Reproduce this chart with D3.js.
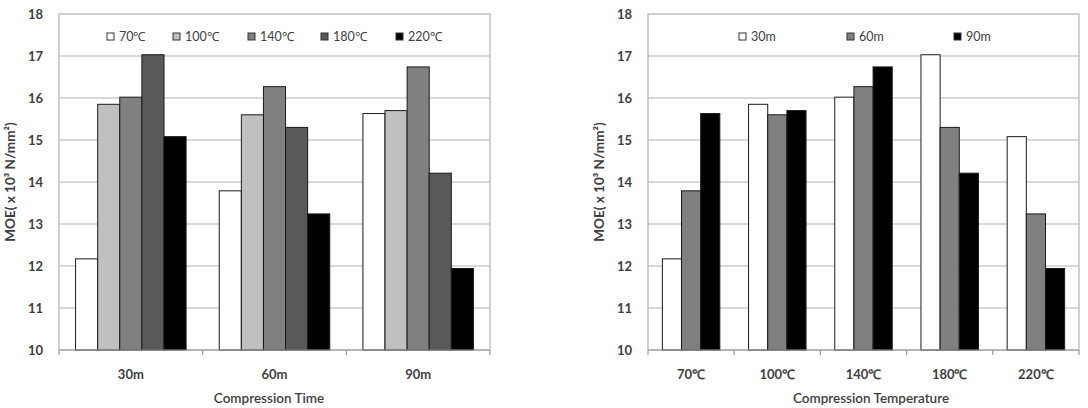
<!DOCTYPE html>
<html lang="en">
<head>
    <meta charset="UTF-8">
    <title>MOE by compression time and temperature</title>
    <script src="https://cdnjs.cloudflare.com/ajax/libs/d3/7.8.5/d3.min.js"></script>
    <style>
        body { margin: 0; background: #ffffff; }
        svg { display: block; font-family: Lato, 'Open Sans', sans-serif; }
        .tick-label { font-size: 13px; font-weight: bold; fill: #404040; }
        .legend-text { font-size: 12.5px; fill: #404040; }
        .axis-title { font-size: 13.5px; font-weight: bold; fill: #404040; }
    </style>
</head>
<body>
    <svg id="chart" width="1088" height="408"></svg>

    <script>
        // categories
        const timeCats = ["30m", "60m", "90m"];
        const tempCats = ["70℃", "100℃", "140℃", "180℃", "220℃"];

        // MOE (x 10^3 N/mm2) per temperature, across 30m / 60m / 90m
        const moe70 = [12.17, 13.79, 15.63];
        const moe100 = [15.85, 15.60, 15.70];
        const moe140 = [16.02, 16.27, 16.74];
        const moe180 = [17.03, 15.30, 14.21];
        const moe220 = [15.08, 13.24, 11.94];

        const yTicks = [10, 11, 12, 13, 14, 15, 16, 17, 18];

        const tempColors = ["#ffffff", "#c0c0c0", "#808080", "#595959", "#000000"];
        const timeColors = ["#ffffff", "#808080", "#000000"];

        const byTemp = [moe70, moe100, moe140, moe180, moe220];
        // same numbers the other way round: one series per time
        const byTime = timeCats.map((t, i) => byTemp.map(s => s[i]));

        const svg = d3.select("#chart");

        function drawChart(cfg) {
            const w = 431, h = 336;
            const g = svg.append("g").attr("transform", `translate(${cfg.left},14)`);

            const y = d3.scaleLinear().domain([10, 18]).range([h, 0]);
            const x0 = d3.scaleBand().domain(cfg.cats).range([0, w]);
            const n = cfg.series.length;
            const bw = x0.bandwidth() / (n + 1.5);   // excel gap width 150%
            const x1 = d3.scaleBand().domain(cfg.series)
                .range([0.75 * bw, x0.bandwidth() - 0.75 * bw]);

            // plot border + gridlines
            g.append("rect").attr("width", w).attr("height", h)
                .attr("fill", "none").attr("stroke", "#b4b4b4").attr("stroke-width", 1.2);
            g.selectAll(".grid").data(yTicks.slice(1, -1)).join("line")
                .attr("x1", 0).attr("x2", w)
                .attr("y1", d => y(d)).attr("y2", d => y(d))
                .attr("stroke", "#b4b4b4").attr("stroke-width", 1.2);

            // y axis labels
            const yAxis = d3.axisLeft(y).tickValues(yTicks).tickSize(0).tickPadding(16);
            const ya = g.append("g").call(yAxis);
            ya.select(".domain").remove();
            ya.selectAll("text").attr("class", "tick-label").attr("fill", null)
                .style("font-family", "Lato, sans-serif");

            // bars
            cfg.series.forEach((s, si) => {
                g.selectAll(".bar-" + si).data(cfg.values[si]).join("rect")
                    .attr("x", (d, ci) => x0(cfg.cats[ci]) + x1(s))
                    .attr("y", d => y(d))
                    .attr("width", x1.bandwidth())
                    .attr("height", d => h - y(d))
                    .attr("fill", cfg.colors[si])
                    .attr("stroke", "#1a1a1a").attr("stroke-width", 1);
            });

            // x axis with ticks between categories
            const xb = g.append("g").attr("transform", `translate(0,${h})`);
            xb.append("line").attr("x1", 0).attr("x2", w)
                .attr("stroke", "#9a9a9a").attr("stroke-width", 1.2);
            const bounds = cfg.cats.map(c => x0(c)).concat([w]);
            xb.selectAll(".xt").data(bounds).join("line")
                .attr("x1", d => d).attr("x2", d => d)
                .attr("y1", 0).attr("y2", 5)
                .attr("stroke", "#9a9a9a").attr("stroke-width", 1.2);
            xb.selectAll(".xl").data(cfg.cats).join("text")
                .attr("class", "tick-label")
                .attr("x", d => x0(d) + x0.bandwidth() / 2)
                .attr("y", 29)
                .attr("text-anchor", "middle")
                .text(d => d);

            // legend inside the plot
            cfg.series.forEach((s, si) => {
                const lx = cfg.legendX[si];
                g.append("rect").attr("x", lx).attr("y", 19)
                    .attr("width", 7).attr("height", 7)
                    .attr("fill", cfg.colors[si])
                    .attr("stroke", "#333").attr("stroke-width", 1);
                g.append("text").attr("class", "legend-text")
                    .attr("x", lx + 12).attr("y", 27)
                    .text(s);
            });

            // axis titles
            svg.append("text").attr("class", "axis-title")
                .attr("transform", `translate(${cfg.left - 44},182) rotate(-90)`)
                .attr("text-anchor", "middle")
                .text("MOE( x 10³ N/mm²)");
            svg.append("text").attr("class", "axis-title")
                .attr("x", cfg.left + cfg.titleDx).attr("y", 403)
                .attr("text-anchor", "middle")
                .style("font-weight", "600")
                .text(cfg.xTitle);
        }

        drawChart({
            left: 59, cats: timeCats, series: tempCats, values: byTemp,
            colors: tempColors, legendX: [48, 114, 189, 262, 337],
            xTitle: "Compression Time", titleDx: 210
        });
        drawChart({
            left: 648, cats: tempCats, series: timeCats, values: byTime,
            colors: timeColors, legendX: [91, 199, 306],
            xTitle: "Compression Temperature", titleDx: 223
        });
    </script>
</body>
</html>
